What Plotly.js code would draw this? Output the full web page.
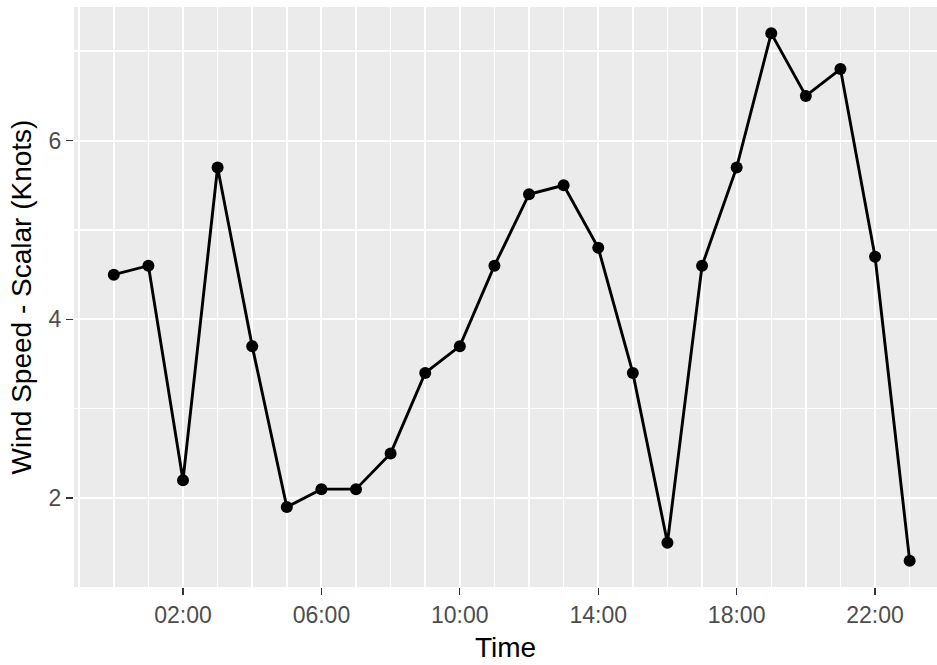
<!DOCTYPE html>
<html>
<head>
<meta charset="utf-8">
<script src="https://cdn.plot.ly/plotly-3.0.1.min.js"></script>
<style>html,body{margin:0;padding:0;background:#fff;}#chart{width:937px;height:665px;}</style>
</head>
<body>
<div id="chart"></div>
<script>
const times = ["00:00","01:00","02:00","03:00","04:00","05:00","06:00","07:00","08:00","09:00","10:00","11:00",
               "12:00","13:00","14:00","15:00","16:00","17:00","18:00","19:00","20:00","21:00","22:00","23:00"];
const windSpeed = [4.5,4.6,2.2,5.7,3.7,1.9,2.1,2.1,2.5,3.4,3.7,4.6,
                   5.4,5.5,4.8,3.4,1.5,4.6,5.7,7.2,6.5,6.8,4.7,1.3];
const xTickLabels = ["02:00","06:00","10:00","14:00","18:00","22:00"];
const yTickValues = [2,4,6];

const hours = times.map(t => parseInt(t.split(":")[0], 10));
const xTickVals = xTickLabels.map(l => hours[times.indexOf(l)]);
const minorX = [];
for (let h = -1; h <= 24; h++) if (!xTickVals.includes(h)) minorX.push(h);
const minorY = [1,3,5,7];

const trace = {
  x: hours, y: windSpeed, type: "scatter", mode: "lines+markers",
  line: {color: "#000000", width: 2.9},
  marker: {color: "#000000", size: 12},
  hoverinfo: "skip"
};

const layout = {
  width: 937, height: 665,
  margin: {l: 74, r: 0, t: 7, b: 78},
  paper_bgcolor: "#ffffff", plot_bgcolor: "#EBEBEB",
  font: {family: "Liberation Sans, Arial, sans-serif", color: "#000"},
  showlegend: false,
  xaxis: {
    range: [-1.15, 23.79], zeroline: false,
    tickmode: "array", tickvals: xTickVals, ticktext: xTickLabels,
    ticks: "outside", ticklen: 7, tickwidth: 1.2, tickcolor: "#333333",
    tickfont: {size: 23, color: "#4D4D4D"},
    showgrid: true, gridcolor: "#ffffff", gridwidth: 1.9,
    minor: {tickmode: "array", tickvals: minorX, showgrid: true, gridcolor: "#ffffff", gridwidth: 1.5},
    showline: false,
    title: {text: "Time", font: {size: 28, color: "#000"}, standoff: 10}
  },
  yaxis: {
    range: [1.005, 7.495], zeroline: false,
    tickmode: "array", tickvals: yTickValues, ticktext: yTickValues.map(String),
    ticks: "outside", ticklen: 7, tickwidth: 1.2, tickcolor: "#333333",
    tickfont: {size: 23, color: "#4D4D4D"},
    showgrid: true, gridcolor: "#ffffff", gridwidth: 1.9,
    minor: {tickmode: "array", tickvals: minorY, showgrid: true, gridcolor: "#ffffff", gridwidth: 1.5},
    showline: false,
    title: {text: "Wind Speed - Scalar (Knots)", font: {size: 28, color: "#000"}, standoff: 8}
  }
};

Plotly.newPlot("chart", [trace], layout, {staticPlot: true, displayModeBar: false});
</script>
</body>
</html>
